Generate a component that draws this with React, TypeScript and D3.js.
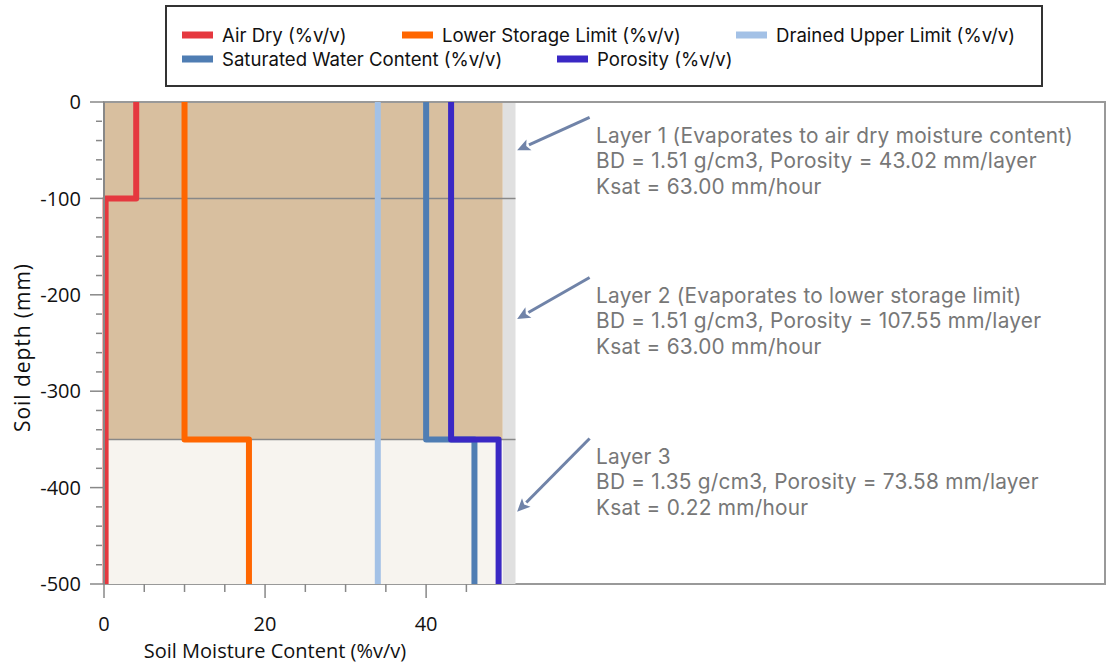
import React, { useEffect, useRef } from "react";
import * as d3 from "d3";

// ---- data ----
const layerTops = [0, -100, -350];
const layerBottoms = [-100, -350, -500];
const layerFill = ["#D8BF9F", "#D8BF9F", "#F7F4EF"];

const airDry = [4, 0.2, 0.2];
const lowerStorage = [10, 10, 18];
const drainedUpper = [34, 34, 34];
const saturated = [40, 40, 46];
const porosity = [43.1, 43.1, 49];

const seriesNames = [
  "Air Dry (%v/v)",
  "Lower Storage Limit (%v/v)",
  "Drained Upper Limit (%v/v)",
  "Saturated Water Content (%v/v)",
  "Porosity (%v/v)",
];
const seriesColors = ["#E5383F", "#FF6600", "#A3C1E6", "#4F7DB3", "#3A28C4"];
const seriesValues = [airDry, lowerStorage, drainedUpper, saturated, porosity];

const annotationLines = [
  [
    "Layer 1 (Evaporates to air dry moisture content)",
    "BD = 1.51 g/cm3, Porosity = 43.02 mm/layer",
    "Ksat = 63.00 mm/hour",
  ],
  [
    "Layer 2 (Evaporates to lower storage limit)",
    "BD = 1.51 g/cm3, Porosity = 107.55 mm/layer",
    "Ksat = 63.00 mm/hour",
  ],
  ["Layer 3", "BD = 1.35 g/cm3, Porosity = 73.58 mm/layer", "Ksat = 0.22 mm/hour"],
];
const arrowTipDepth = [-50, -225, -425];
const arrowStartDepth = [-16, -182, -349];

const xTickValues = d3.range(0, 50, 5);
const xLabelValues = [0, 20, 40];
const yTickValues = d3.range(0, -501, -20);
const yLabelValues = [0, -100, -200, -300, -400, -500];

const FONT = "'Open Sans', 'Noto Sans', sans-serif";
const ANNO_FONT = "Inter, 'Open Sans', sans-serif";

export default function App() {
  const ref = useRef<SVGSVGElement>(null);

  useEffect(() => {
    const svg = d3.select(ref.current);
    svg.selectAll("*").remove();

    const left = 104;
    const right = 1105;
    const top = 102;
    const bottom = 584;

    const x = d3.scaleLinear().domain([0, 124.3]).range([left, right]);
    const y = d3.scaleLinear().domain([0, -500]).range([top, bottom]);

    const bandEnd = 49.5;
    const stripEnd = 51.1;

    // plot frame background
    svg
      .append("rect")
      .attr("x", left)
      .attr("y", top)
      .attr("width", right - left)
      .attr("height", bottom - top)
      .attr("fill", "#fff")
      .attr("stroke", "#999")
      .attr("stroke-width", 2);

    // grey strip
    svg
      .append("rect")
      .attr("x", x(bandEnd))
      .attr("y", y(0))
      .attr("width", x(stripEnd) - x(bandEnd))
      .attr("height", y(-500) - y(0))
      .attr("fill", "#E0E0E0");

    // layer bands
    layerTops.forEach((t, i) => {
      svg
        .append("rect")
        .attr("x", x(0))
        .attr("y", y(t))
        .attr("width", x(bandEnd) - x(0))
        .attr("height", y(layerBottoms[i]) - y(t))
        .attr("fill", layerFill[i]);
    });

    // layer boundary lines
    layerBottoms.slice(0, 2).forEach((b) => {
      svg
        .append("line")
        .attr("x1", x(0))
        .attr("x2", x(stripEnd))
        .attr("y1", y(b))
        .attr("y2", y(b))
        .attr("stroke", "#888")
        .attr("stroke-width", 1.5);
    });

    // top line
    svg
      .append("line")
      .attr("x1", left)
      .attr("x2", right)
      .attr("y1", top)
      .attr("y2", top)
      .attr("stroke", "#999")
      .attr("stroke-width", 2);

    // series lines
    const line = d3
      .line<[number, number]>()
      .x((d) => x(d[0]))
      .y((d) => y(d[1]));
    seriesValues.forEach((vals, si) => {
      const pts: [number, number][] = [];
      vals.forEach((v, i) => {
        pts.push([v, layerTops[i]]);
        pts.push([v, layerBottoms[i]]);
      });
      svg
        .append("path")
        .attr("d", line(pts))
        .attr("fill", "none")
        .attr("stroke", seriesColors[si])
        .attr("stroke-width", 6)
        .attr("stroke-linejoin", "round");
    });

    // Y axis
    const yAxis = svg.append("g").attr("transform", `translate(${left},0)`);
    yAxis
      .append("line")
      .attr("x1", 0)
      .attr("x2", 0)
      .attr("y1", top)
      .attr("y2", bottom)
      .attr("stroke", "#888")
      .attr("stroke-width", 2);
    yTickValues.forEach((v) => {
      const major = yLabelValues.includes(v);
      yAxis
        .append("line")
        .attr("x1", major ? -14 : -8)
        .attr("x2", major ? 0 : -2)
        .attr("y1", y(v))
        .attr("y2", y(v))
        .attr("stroke", "#888")
        .attr("stroke-width", 1.5);
    });
    yLabelValues.forEach((v) => {
      yAxis
        .append("text")
        .attr("x", -23)
        .attr("y", y(v))
        .attr("dy", "0.36em")
        .attr("text-anchor", "end")
        .attr("font-family", FONT)
        .attr("font-size", 20)
        .attr("fill", "#111")
        .text(v === 0 ? "0" : `-${Math.abs(v)}`);
    });

    // X axis
    const xAxis = svg.append("g").attr("transform", `translate(0,${bottom})`);
    xTickValues.forEach((v) => {
      const major = xLabelValues.includes(v);
      xAxis
        .append("line")
        .attr("x1", x(v))
        .attr("x2", x(v))
        .attr("y1", 0)
        .attr("y2", major ? 14 : 8)
        .attr("stroke", "#888")
        .attr("stroke-width", 1.5);
    });
    xLabelValues.forEach((v) => {
      xAxis
        .append("text")
        .attr("x", x(v))
        .attr("y", 47)
        .attr("text-anchor", "middle")
        .attr("font-family", FONT)
        .attr("font-size", 20)
        .attr("fill", "#111")
        .text(String(v));
    });

    // axis titles
    svg
      .append("text")
      .attr("x", 275)
      .attr("y", 658)
      .attr("text-anchor", "middle")
      .attr("font-family", FONT)
      .attr("font-size", 20)
      .attr("fill", "#111")
      .text("Soil Moisture Content (%v/v)");
    svg
      .append("text")
      .attr("transform", `translate(30,348) rotate(-90)`)
      .attr("text-anchor", "middle")
      .attr("font-family", FONT)
      .attr("font-size", 21)
      .attr("textLength", 168)
      .attr("lengthAdjust", "spacing")
      .attr("fill", "#111")
      .text("Soil depth (mm)");

    // annotations
    const textX = 61.1;
    const arrowStartX = 60.3;
    const arrowTipX = 51.3;
    const arrowColor = "#7083A8";
    annotationLines.forEach((lines, i) => {
      const sx = x(arrowStartX);
      const sy = y(arrowStartDepth[i]);
      const tx = x(arrowTipX);
      const ty = y(arrowTipDepth[i]);
      const ang = Math.atan2(ty - sy, tx - sx);
      const headLen = 13;
      const headW = 6;
      const bx = tx - headLen * Math.cos(ang);
      const by = ty - headLen * Math.sin(ang);
      svg
        .append("line")
        .attr("x1", sx)
        .attr("y1", sy)
        .attr("x2", bx)
        .attr("y2", by)
        .attr("stroke", arrowColor)
        .attr("stroke-width", 3);
      const px = -Math.sin(ang);
      const py = Math.cos(ang);
      svg
        .append("path")
        .attr(
          "d",
          `M${tx},${ty} L${bx + px * headW},${by + py * headW} L${bx + 3 * Math.cos(ang)},${by + 3 * Math.sin(ang)} L${bx - px * headW},${by - py * headW} Z`
        )
        .attr("fill", arrowColor);
      lines.forEach((t, j) => {
        svg
          .append("text")
          .attr("x", x(textX))
          .attr("y", sy + 25.5 + j * 25.4)
          .attr("font-family", ANNO_FONT)
          .attr("font-size", 20.8)
          .attr("letter-spacing", 0.25)
          .attr("fill", "#777")
          .text(t);
      });
    });

    // legend
    svg
      .append("rect")
      .attr("x", 166)
      .attr("y", 6)
      .attr("width", 876)
      .attr("height", 80)
      .attr("fill", "#fff")
      .attr("stroke", "#333")
      .attr("stroke-width", 2);
    const legendPos = [
      [182, 35],
      [402, 35],
      [736, 35],
      [182, 59],
      [557, 59],
    ];
    seriesNames.forEach((name, i) => {
      const [lx, ly] = legendPos[i];
      svg
        .append("rect")
        .attr("x", lx)
        .attr("y", ly - 3.5)
        .attr("width", 31)
        .attr("height", 7)
        .attr("fill", seriesColors[i]);
      svg
        .append("text")
        .attr("x", lx + 40)
        .attr("y", ly + 6.5)
        .attr("font-family", ANNO_FONT)
        .attr("font-size", 18.6)
        .attr("fill", "#111")
        .text(name);
    });
  }, []);

  return (
    <svg
      ref={ref}
      width={1106}
      height={667}
      style={{ position: "absolute", left: 0, top: 0, background: "#fff" }}
    />
  );
}
